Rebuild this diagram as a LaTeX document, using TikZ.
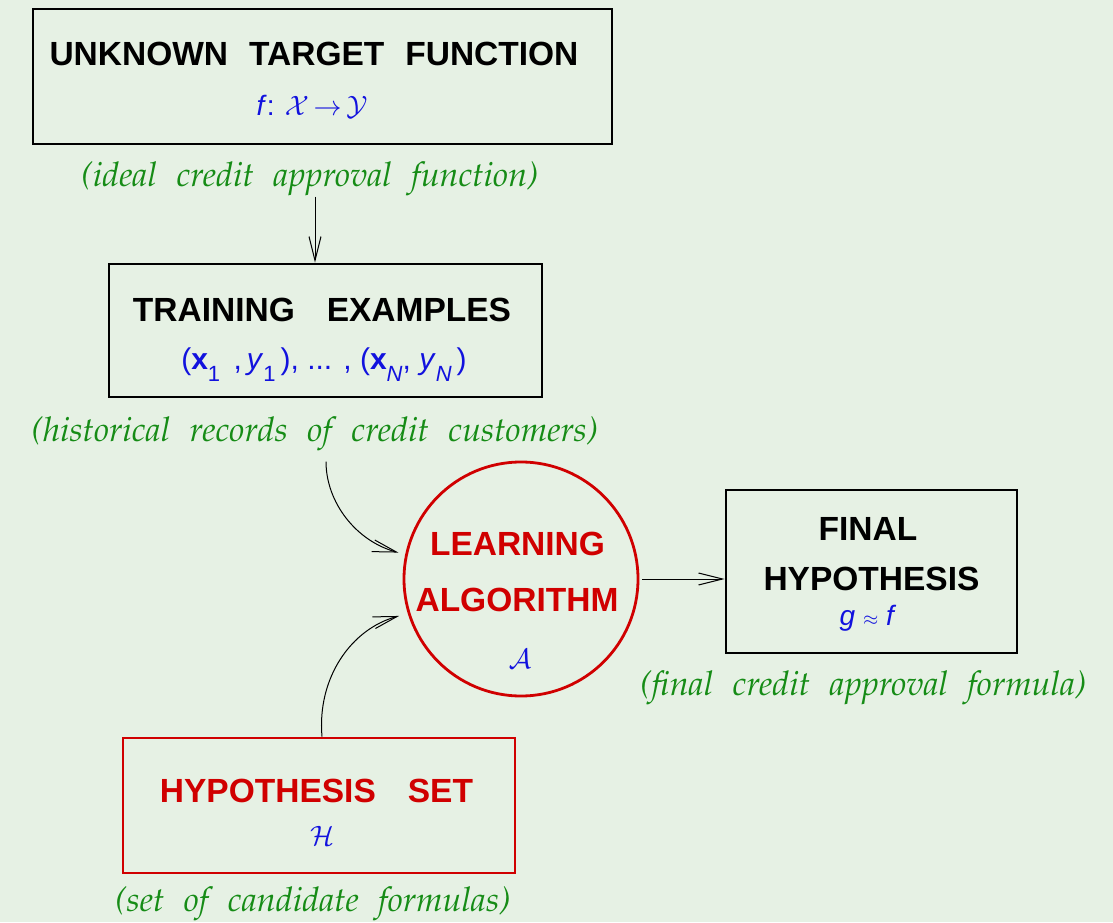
\RequirePackage{fix-cm}
\documentclass[tikz,border=0pt]{standalone}
\usepackage{fontspec}
\setmainfont{Liberation Sans}
\usetikzlibrary{arrows.meta,positioning}
\definecolor{paleground}{RGB}{230,241,228}
\definecolor{notered}{RGB}{208,0,0}
\definecolor{noteblue}{RGB}{18,18,222}
\definecolor{notegreen}{RGB}{22,140,22}
\newcommand{\titlefont}{\fontsize{33.5}{40}\selectfont\bfseries}
\newcommand{\notefont}{\fontencoding{OT1}\fontfamily{ppl}\fontshape{it}\fontsize{34}{40}\selectfont\spaceskip=19.5pt\relax}
\newcommand{\symfont}{\fontsize{28}{34}\selectfont}
\newcommand{\lowsub}[1]{\raisebox{-12pt}{\fontsize{22}{22}\selectfont #1}}

\begin{document}
\begin{tikzpicture}[x=1pt,y=1pt,
    box/.style={draw, line width=2.8pt, inner sep=0pt},
    head/.style={font=\titlefont, inner sep=0pt, anchor=base},
    sym/.style={text=noteblue, font=\symfont, inner sep=0pt, anchor=base},
    note/.style={text=notegreen, font=\notefont, inner sep=0pt, anchor=base},
    arr/.style={line width=1pt, -{Straight Barb[length=24pt,width=12pt]}}]
    \fill[paleground] (0,0) rectangle (1113,922);
    \useasboundingbox (0,0) rectangle (1113,922);

    \node[box, minimum width=579pt, minimum height=135pt] (target) at (322.5,845.5) {};
    \node[head] (targettitle) at (314,856) {UNKNOWN\hspace{21pt}TARGET\hspace{21pt}FUNCTION};
    \node[sym] (targetmap) at (312,806) {\textit{f}: $\mathcal{X}\mkern-2mu\rightarrow\mkern-2mu\mathcal{Y}$};
    \node[note] (targetnote) at (310,735) {(ideal credit approval function)};

    \node[box, minimum width=433pt, minimum height=133pt] (train) at (325.5,591.5) {};
    \node[head] (traintitle) at (322,600) {TRAINING\hspace{32pt}EXAMPLES};
    \node[sym, font=\fontsize{30}{36}\selectfont] (traindata) at (324,552)
        {(\textbf{x}\lowsub{1}\,~,\,\textit{y}\lowsub{1}\,), ... , (\textbf{x}\lowsub{\textit{N}}, \textit{y}\lowsub{\textit{N}}\,)};
    \node[note] (trainnote) at (315,480) {(historical records of credit customers)};

    \node[circle, draw=notered, line width=2.8pt, minimum size=234pt, inner sep=0pt] (learn) at (521,343) {};
    \node[head, text=notered] (learntop) at (517.5,367) {LEARNING};
    \node[head, text=notered] (learnbot) at (517,311) {ALGORITHM};
    \node[sym] (learnsym) at (520,254) {$\mathcal{A}$};

    \node[box, minimum width=291pt, minimum height=163pt] (final) at (871.5,350.5) {};
    \node[head] (finaltop) at (868,382) {FINAL};
    \node[head] (finalbot) at (871.5,332) {HYPOTHESIS};
    \node[sym] (finalsym) at (868,297) {\textit{g} $\scriptstyle\approx$ \textit{f}};
    \node[note] (finalnote) at (863.5,227) {(final credit approval formula)};

    \node[box, draw=notered, minimum width=392pt, minimum height=135pt] (hset) at (319,116.5) {};
    \node[head, text=notered] (hsettitle) at (316.5,120) {HYPOTHESIS\hspace{32pt}SET};
    \node[sym] (hsetsym) at (322,77) {$\mathcal{H}$};
    \node[note] (hsetnote) at (313,10.5) {(set of candidate formulas)};

    \draw[arr] ([xshift=5pt]targetnote.south) -- ([xshift=-10.5pt]train.north);
    \draw[arr, shorten <=10pt, shorten >=7pt] ([xshift=11pt]trainnote.south) to[out=-90,in=165] (learn.168);
    \draw[arr, shorten >=9pt] ([xshift=3pt]hset.north) to[out=95,in=195] (learn.197);
    \draw[arr, shorten <=3pt] (learn.east) -- (learn.east -| final.west);
\end{tikzpicture}
\end{document}
